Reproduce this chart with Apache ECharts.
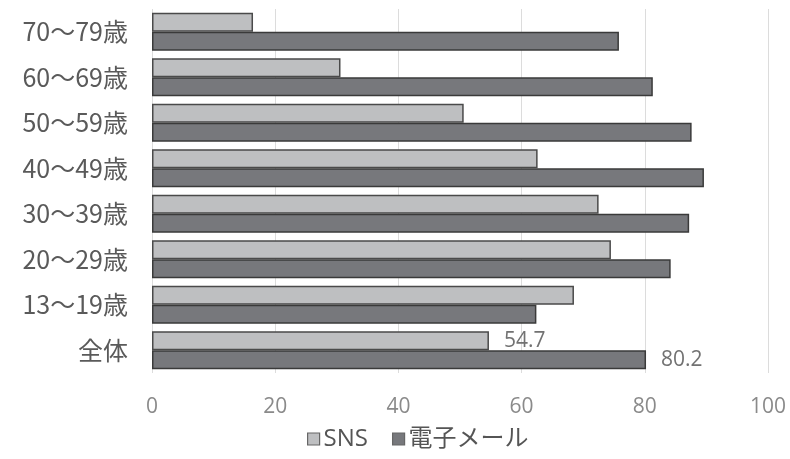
<!DOCTYPE html>
<html>
<head>
<meta charset="utf-8">
<script src="https://cdn.jsdelivr.net/npm/echarts@6/dist/echarts.min.js"></script>
<style>
  html, body { margin: 0; padding: 0; background: #fff; }
  #chart { width: 790px; height: 459px; }
</style>
</head>
<body>
<div id="chart"></div>
<script>
// Age groups, listed bottom to top along the category axis
const categories = ['全体', '13～19歳', '20～29歳', '30～39歳', '40～49歳', '50～59歳', '60～69歳', '70～79歳'];
const snsValues = [54.7, 68.5, 74.5, 72.5, 62.6, 50.6, 30.6, 16.4];
const mailValues = [80.2, 62.4, 84.2, 87.2, 89.6, 87.6, 81.3, 75.8];
const seriesNames = ['SNS', '電子メール'];
const xTicks = [0, 20, 40, 60, 80, 100];

const CJK_FONT = '"Noto Sans CJK JP", "Noto Sans", sans-serif';
const NUM_FONT = '"Open Sans", "Noto Sans CJK JP", sans-serif';

// Only the overall row carries a value label
function withLabels(values) {
  return values.map((v, i) => i === 0
    ? { value: v, label: { show: true, position: 'right', distance: 15, color: '#727272', fontSize: 21, fontFamily: NUM_FONT } }
    : v);
}

const chart = echarts.init(document.getElementById('chart'));
chart.setOption({
  animation: false,
  backgroundColor: '#fff',
  grid: { left: 152, right: 22, top: 9, bottom: 86 },
  legend: {
    bottom: 3,
    left: 302,
    icon: 'rect',
    itemWidth: 12,
    itemHeight: 12,
    itemGap: 24,
    itemStyle: { borderColor: '#666', borderWidth: 1.2 },
    textStyle: { fontSize: 24, color: '#555', fontFamily: NUM_FONT, padding: [0, 0, 0, -1] },
    data: seriesNames
  },
  xAxis: {
    type: 'value',
    min: xTicks[0],
    max: xTicks[xTicks.length - 1],
    interval: 20,
    axisLine: { show: false },
    axisTick: { show: false },
    axisLabel: { color: '#8a8a8a', fontSize: 21, fontFamily: NUM_FONT, margin: 24 },
    splitLine: { lineStyle: { color: '#dcdcdc', width: 1 } }
  },
  yAxis: {
    type: 'category',
    data: categories,
    axisLine: { show: false },
    axisTick: { show: false },
    axisLabel: { color: '#5a5a5a', fontSize: 25, fontFamily: CJK_FONT, margin: 24 }
  },
  series: [
    {
      name: seriesNames[0],
      type: 'bar',
      data: withLabels(snsValues),
      barWidth: 19,
      barGap: '0%',
      itemStyle: { color: '#bebfc1', borderColor: '#4a4a4a', borderWidth: 1.5 }
    },
    {
      name: seriesNames[1],
      type: 'bar',
      data: withLabels(mailValues),
      barWidth: 19,
      barGap: '0%',
      itemStyle: { color: '#77787c', borderColor: '#3a3a3a', borderWidth: 1.5 }
    }
  ]
});
</script>
</body>
</html>
